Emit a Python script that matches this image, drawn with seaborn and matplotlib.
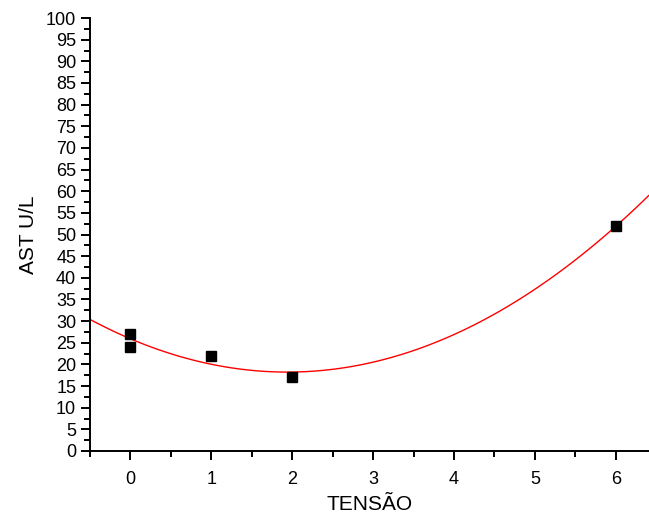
import numpy as np
import pandas as pd
import seaborn as sns
import matplotlib.pyplot as plt
from matplotlib.ticker import MultipleLocator

# measured points
tensao = [0, 0, 1, 2, 6]
ast = [27, 24, 22, 17, 52]

df = pd.DataFrame({'TENSÃO': tensao, 'AST U/L': ast})

sns.set_style('ticks')
plt.rcParams['font.family'] = ['Liberation Sans', 'DejaVu Sans']
plt.rcParams['text.color'] = 'black'
plt.rcParams['axes.labelcolor'] = 'black'

fig = plt.figure(figsize=(6.49, 5.16), dpi=100)
ax = fig.add_axes([0.1387, 0.126, 0.8613, 0.839])

ax.set_xlim(-0.5, 6.41)
ax.set_ylim(0, 100)

# second order polynomial fit
sns.regplot(data=df, x='TENSÃO', y='AST U/L', order=2, ci=None, scatter=False,
            truncate=False, line_kws={'color': 'red', 'lw': 1}, ax=ax)
ax.plot(df['TENSÃO'], df['AST U/L'], 's', color='black', markersize=7, zorder=3)

ax.xaxis.set_major_locator(MultipleLocator(1))
ax.xaxis.set_minor_locator(MultipleLocator(0.5))
ax.yaxis.set_major_locator(MultipleLocator(5))
ax.yaxis.set_minor_locator(MultipleLocator(2.5))
ax.tick_params(which='major', direction='out', length=6.5, width=1.4, labelsize=13, colors='black')
ax.tick_params(which='minor', direction='out', length=4, width=1.4, colors='black')
ax.tick_params(axis='x', pad=8)

sns.despine(ax=ax)
for s in ['left', 'bottom']:
    ax.spines[s].set_linewidth(1.4)
    ax.spines[s].set_color('black')

ax.set_xlabel('TENSÃO', fontsize=15, labelpad=5, color='black')
ax.set_ylabel('AST U/L', fontsize=15, labelpad=6, color='black')

fig.savefig('out.png', dpi=100)
